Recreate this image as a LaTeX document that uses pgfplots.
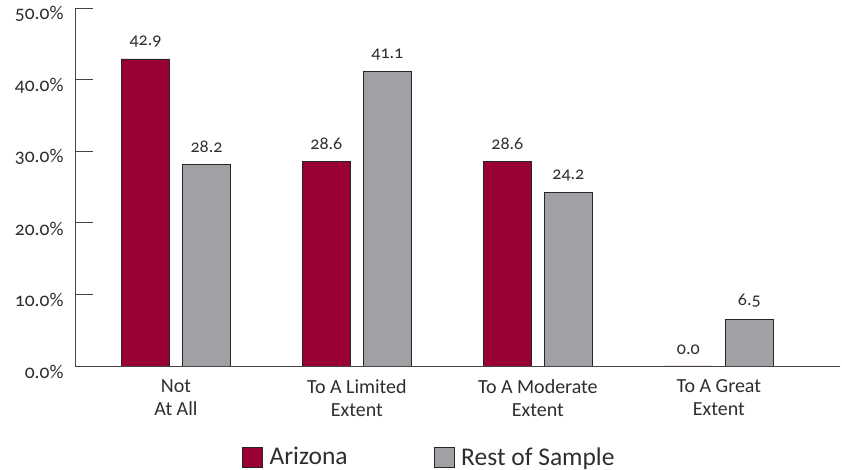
\documentclass[border=0pt]{standalone}
\usepackage{fontspec}
\setmainfont{Carlito}[Numbers=OldStyle]
\usepackage{pgfplots}
\pgfplotsset{compat=1.18}

\definecolor{azred}{HTML}{990033}
\definecolor{restgray}{HTML}{A0A1A5}
\definecolor{inkgray}{HTML}{2E2E2E}
\definecolor{axisgray}{HTML}{444444}

\begin{document}
\begin{tikzpicture}
\useasboundingbox (-75pt,-104pt) rectangle (767pt,366pt);
\begin{axis}[
  at={(0,0)}, anchor=south west,
  scale only axis,
  width=765pt, height=358pt,
  ybar=13pt, bar width=48pt,
  xmin=-0.558, xmax=3.67,
  ymin=0, ymax=50,
  axis x line*=bottom, axis y line*=left,
  axis line style={axisgray, line width=0.8pt},
  ytick={0,10,20,30,40,50},
  yticklabel={\pgfmathprintnumber[fixed,fixed zerofill,precision=1]{\tick}\%},
  /pgf/number format/assume math mode=true,
  yticklabel style={font=\fontsize{19.5}{22}\selectfont, text=inkgray, xshift=-8pt, yshift=-6pt},
  ytick style={axisgray, line width=0.8pt},
  major tick length=18pt, tick align=inside,
  xtick=data,
  xticklabels={{Not\\At All},{To A Limited\\Extent},{To A Moderate\\Extent},{To A Great\\Extent}},
  xticklabel style={align=center, font=\fontsize{20}{23}\selectfont, text=inkgray, yshift=-10pt},
  xtick style={draw=none},
  nodes near coords,
  nodes near coords style={font=\fontsize{18}{20}\selectfont, text=inkgray, yshift=8pt,
    /pgf/number format/.cd, fixed, fixed zerofill, precision=1, assume math mode=true},
  legend columns=2,
  legend style={at={(0.218,-0.254)}, anchor=west, draw=none, fill=none, inner sep=0pt,
    font=\fontsize{25.5}{28}\selectfont, text=inkgray,
    nodes={inner xsep=7pt},
    /tikz/every even column/.append style={column sep=79pt}},
  legend image code/.code={\draw[#1] (0pt,-10pt) rectangle (20pt,10pt);},
]
\addplot[fill=azred, draw=black!85, line width=0.6pt] coordinates {(0,42.9) (1,28.6) (2,28.6) (3,0.0)};
\addplot[fill=restgray, draw=black!85, line width=0.6pt] coordinates {(0,28.2) (1,41.1) (2,24.2) (3,6.5)};
\legend{Arizona, Rest of Sample}
\draw[axisgray, line width=0.8pt] (rel axis cs:1,0) -- ++(0,9pt);
\end{axis}
\end{tikzpicture}
\end{document}
